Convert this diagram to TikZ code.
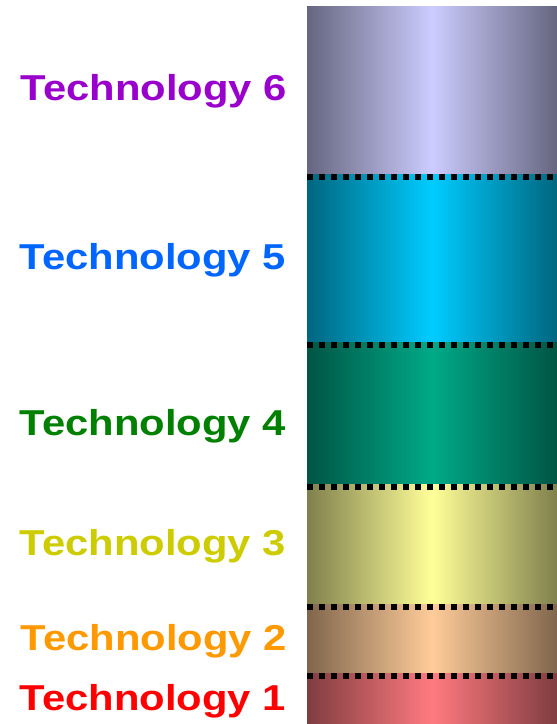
\documentclass[tikz,border=0pt]{standalone}
\usepackage{fontspec}
\setmainfont{Liberation Sans}
\definecolor{c6}{RGB}{153,0,204}
\definecolor{c5}{RGB}{0,102,255}
\definecolor{c4}{RGB}{0,128,0}
\definecolor{c3}{RGB}{204,204,0}
\definecolor{c2}{RGB}{255,153,0}
\definecolor{c1}{RGB}{255,0,0}
\definecolor{m6}{RGB}{204,204,255}
\definecolor{m5}{RGB}{0,204,255}
\definecolor{m4}{RGB}{0,170,136}
\definecolor{m3}{RGB}{255,255,153}
\definecolor{m2}{RGB}{255,204,153}
\definecolor{m1}{RGB}{255,122,128}
\tikzset{
  band/.style={anchor=north west, inner sep=0pt, outer sep=0pt, minimum width=250pt,
    left color=#1!50!black, right color=#1!50!black, middle color=#1},
  tech/.style={anchor=base east, inner sep=0pt, outer sep=0pt,
    font=\bfseries\fontsize{36}{40}\selectfont},
  dotline/.style={line width=6pt, dash pattern=on 6pt off 6pt, line cap=butt, black}
}
\newcommand{\techtext}[1]{\scalebox{1.16}[1]{#1}}
\begin{document}
\begin{tikzpicture}[x=1pt,y=-1pt]
\useasboundingbox (0,0) rectangle (557,724);
\node[band=m6, minimum height=168pt] (b6) at (307,6) {};
\node[band=m5, minimum height=168pt] (b5) at (307,174) {};
\node[band=m4, minimum height=142pt] (b4) at (307,342) {};
\node[band=m3, minimum height=120pt] (b3) at (307,484) {};
\node[band=m2, minimum height=69pt] (b2) at (307,604) {};
\node[band=m1, minimum height=51pt] (b1) at (307,673) {};
\foreach \b in {b5,b4,b3,b2,b1}{
  \draw[dotline] ([yshift=-3pt]\b.north west) -- ([yshift=-3pt]\b.north east);
}
\node[tech, text=c6] (t6) at (287,100.5) {\techtext{Technology 6}};
\node[tech, text=c5] (t5) at (286,269) {\techtext{Technology 5}};
\node[tech, text=c4] (t4) at (286,435) {\techtext{Technology 4}};
\node[tech, text=c3] (t3) at (286,555) {\techtext{Technology 3}};
\node[tech, text=c2] (t2) at (287,650) {\techtext{Technology 2}};
\node[tech, text=c1] (t1) at (286,710) {\techtext{Technology 1}};
\end{tikzpicture}
\end{document}
